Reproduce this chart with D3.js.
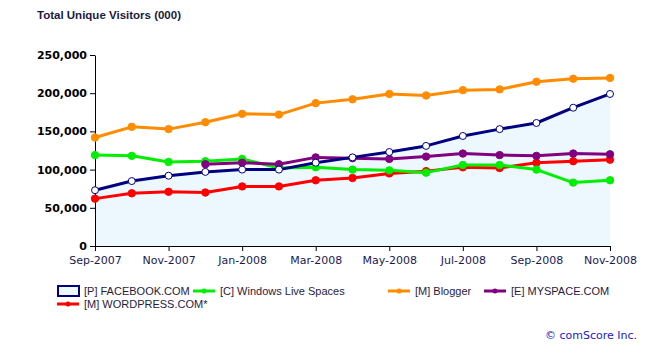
<!DOCTYPE html>
<html>
<head>
<meta charset="utf-8">
<script src="https://cdn.jsdelivr.net/npm/d3@7"></script>
<style>
  body { margin: 0; background: #fff; }
  svg text { font-family: "DejaVu Sans", Verdana, sans-serif; }
</style>
</head>
<body>
<div id="chart"></div>
<script>
// months on the x axis
var months = ["Sep-2007", "Oct-2007", "Nov-2007", "Dec-2007", "Jan-2008", "Feb-2008", "Mar-2008",
    "Apr-2008", "May-2008", "Jun-2008", "Jul-2008", "Aug-2008", "Sep-2008", "Oct-2008", "Nov-2008"];

// values in thousands
var facebook = [73, 85, 92, 97, 100, 100, 109, 116, 123, 131, 144, 153, 161, 181, 199].map(function (v) { return v * 1000; });
var windowsLive = [119, 118, 110, 111, 114, 102, 103, 100, 99, 96, 106, 106, 100, 83, 86].map(function (v) { return v * 1000; });
var blogger = [142, 156, 153, 162, 173, 172, 187, 192, 199, 197, 204, 205, 215, 219, 220].map(function (v) { return v * 1000; });
var myspace = [null, null, null, 107, 109, 107, 116, 115, 114, 117, 121, 119, 118, 121, 120].map(function (v) { return v == null ? null : v * 1000; });
var wordpress = [62, 69, 71, 70, 78, 78, 86, 89, 95, 98, 103, 102, 109, 111, 113].map(function (v) { return v * 1000; });

var yTicks = [0, 50000, 100000, 150000, 200000, 250000];

var margin = { top: 55, right: 37, bottom: 106, left: 95 },
    width = 647 - margin.left - margin.right,
    height = 352 - margin.top - margin.bottom;

var svg = d3.select("#chart")
    .append("svg")
    .attr("width", 647)
    .attr("height", 352);

svg.append("text")
    .attr("x", 37)
    .attr("y", 19)
    .attr("font-size", "11.5px")
    .attr("font-weight", "bold")
    .attr("fill", "#1a1a40")
    .style("font-family", "'Liberation Sans', Arial, sans-serif")
    .text("Total Unique Visitors (000)");

var g = svg.append("g")
    .attr("transform", "translate(" + margin.left + "," + margin.top + ")");

var x = d3.scalePoint()
    .domain(months)
    .range([0, width]);

var y = d3.scaleLinear()
    .domain([0, 250000])
    .range([height, 0]);

// facebook area
var area = d3.area()
    .x(function (d, i) { return x(months[i]); })
    .y0(height)
    .y1(function (d) { return y(d); });

g.append("path")
    .datum(facebook)
    .attr("d", area)
    .attr("fill", "#ecf7fe");

// axes
var yAxis = g.append("g")
    .call(d3.axisLeft(y).tickValues(yTicks).tickSize(5).tickSizeOuter(0).tickFormat(d3.format(",")));
yAxis.selectAll("text")
    .attr("font-size", "11px")
    .attr("font-weight", "bold")
    .attr("fill", "#000")
    .style("font-family", "'DejaVu Sans', Verdana, sans-serif");
yAxis.select(".domain").attr("stroke", "#000");

var xAxis = g.append("g")
    .attr("transform", "translate(0," + height + ")")
    .call(d3.axisBottom(x)
        .tickValues(months.filter(function (d, i) { return i % 2 === 0; }))
        .tickSize(5).tickSizeOuter(0));
xAxis.selectAll("text")
    .attr("font-size", "11px")
    .attr("dy", "0.9em")
    .attr("fill", "#1a1a50")
    .style("font-family", "'DejaVu Sans', Verdana, sans-serif");
xAxis.select(".domain").attr("stroke", "#000");

var series = [
    { name: "[M] WORDPRESS.COM*", values: wordpress, color: "#ff0000" },
    { name: "[C] Windows Live Spaces", values: windowsLive, color: "#00ee00" },
    { name: "[M] Blogger", values: blogger, color: "#ff8c00" },
    { name: "[E] MYSPACE.COM", values: myspace, color: "#800080" },
    { name: "[P] FACEBOOK.COM", values: facebook, color: "#000080", open: true }
];

var line = d3.line()
    .defined(function (d) { return d != null; })
    .x(function (d, i) { return x(months[i]); })
    .y(function (d) { return y(d); });

series.forEach(function (s) {
    g.append("path")
        .datum(s.values)
        .attr("d", line)
        .attr("fill", "none")
        .attr("stroke", s.color)
        .attr("stroke-width", 3)
        .attr("stroke-linejoin", "round");

    g.append("g")
        .selectAll("circle")
        .data(s.values.map(function (v, i) { return { v: v, m: months[i] }; })
            .filter(function (d) { return d.v != null; }))
        .enter()
        .append("circle")
        .attr("cx", function (d) { return x(d.m); })
        .attr("cy", function (d) { return y(d.v); })
        .attr("r", s.open ? 3.5 : 3.7)
        .attr("fill", s.open ? "#fff" : s.color)
        .attr("stroke", s.color)
        .attr("stroke-width", 1);
});

// legend
var legendItems = [
    { name: "[P] FACEBOOK.COM", color: "#000080", box: true, x: 57, y: 291 },
    { name: "[C] Windows Live Spaces", color: "#00ee00", x: 193, y: 291 },
    { name: "[M] Blogger", color: "#ff8c00", x: 388, y: 291 },
    { name: "[E] MYSPACE.COM", color: "#800080", x: 484, y: 291 },
    { name: "[M] WORDPRESS.COM*", color: "#ff0000", x: 57, y: 304 }
];

var legend = svg.append("g");
legendItems.forEach(function (d) {
    var item = legend.append("g").attr("transform", "translate(" + d.x + "," + d.y + ")");
    if (d.box) {
        item.append("rect")
            .attr("x", 1).attr("y", -5)
            .attr("width", 21).attr("height", 10)
            .attr("fill", "#ecf7fe")
            .attr("stroke", d.color)
            .attr("stroke-width", 2);
    } else {
        item.append("line")
            .attr("x1", 0).attr("x2", 22)
            .attr("y1", 0).attr("y2", 0)
            .attr("stroke", d.color)
            .attr("stroke-width", 3);
        item.append("circle")
            .attr("cx", 11).attr("cy", 0).attr("r", 2.5)
            .attr("fill", d.color);
    }
    item.append("text")
        .attr("x", 27)
        .attr("y", 4)
        .attr("font-size", "11px")
        .attr("fill", "#2a1a40")
        .style("font-family", "'Liberation Sans', Arial, sans-serif")
        .text(d.name);
});

svg.append("text")
    .attr("x", 637)
    .attr("y", 339)
    .attr("text-anchor", "end")
    .attr("font-size", "11px")
    .attr("fill", "#1a1acc")
    .style("font-family", "'DejaVu Sans', Verdana, sans-serif")
    .text("© comScore Inc.");
</script>
</body>
</html>
